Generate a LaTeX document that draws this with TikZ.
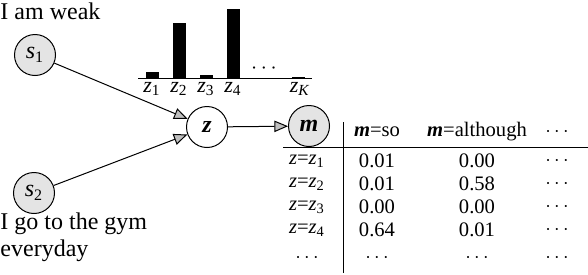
\documentclass[tikz,border=0pt]{standalone}
\usepackage{fontspec}
\setmainfont{LiberationSerif}[Extension=.ttf,UprightFont=*-Regular,BoldFont=*-Bold,ItalicFont=*-Italic,BoldItalicFont=*-BoldItalic]
\usetikzlibrary{arrows.meta}
\definecolor{nodefill}{HTML}{E4E4E4}
\newcommand{\vsub}[2]{\textit{#1}\textsubscript{#2}}
\newcommand{\bvar}[1]{\textbf{\textit{#1}}}
\tikzset{
  >={Triangle[length=2.4mm,width=2mm,fill=gray!50]},
  every picture/.style={line width=0.5pt},
  var/.style={circle,draw,minimum size=20.5pt,inner sep=0pt,font=\fontsize{12}{14}\selectfont},
  obs/.style={var,fill=nodefill},
  sent/.style={inner sep=0pt,align=left,font=\fontsize{12}{13.5}\selectfont},
  cell/.style={inner sep=0pt,font=\fontsize{10.3}{12}\selectfont},
  blab/.style={inner sep=0pt,font=\fontsize{11}{12}\selectfont},
  arr/.style={->},
}
\begin{document}
\begin{tikzpicture}[x=0.5pt,y=-0.5pt]
  \useasboundingbox (0,0) rectangle (588,274);
  % sentences and their variables
  \node[sent,anchor=north west] (t1) at (0,2) {I am weak};
  \node[sent,anchor=north west] (t2) at (0,212) {I go to the gym\\everyday};
  \node[obs] (s1) at (35,55) {\vsub{s}{1}};
  \node[obs] (s2) at (34,193) {\vsub{s}{2}};
  \node[var] (z) at (207,127) {\bvar{z}};
  \node[obs] (m) at (309,126) {\bvar{m}};
  \draw[arr] (s1) -- (z);
  \draw[arr] (s2) -- (z);
  \draw[arr] (z) -- (m);
  % topic histogram
  \draw (138,78) -- (312,78);
  \foreach \bx/\bh/\bl in {152/6/1,179/55/2,206/3/3,233/69/4}{
    \fill (\bx-6.5,78) rectangle ++(13,-\bh);
    \node[blab] at (\bx,89) {\vsub{z}{\bl}};
  }
  \fill (292,78) rectangle (305,76.5);
  \node[blab] at (300,89) {\vsub{z}{\textit{K}}};
  \node[blab] at (264,69) {$\cdots$};
  % table p(m|z)
  \draw (343,122) -- (343,273);
  \draw (283,147) -- (588,147);
  \node[cell] (h1) at (377,132) {\bvar{m}=so};
  \node[cell] (h2) at (477,132) {\bvar{m}=although};
  \node[cell] (h3) at (557,132) {$\cdots$};
  \foreach \r/\y/\pa/\pb in {1/161/0.01/0.00,2/184/0.01/0.58,3/207/0.00/0.00,4/230/0.64/0.01}{
    \node[cell] at (307,\y) {\textit{z}=\vsub{z}{\r}};
    \node[cell] at (377,\y) {\pa};
    \node[cell] at (477,\y) {\pb};
    \node[cell] at (557,\y) {$\cdots$};
  }
  \foreach \cx in {307,377,477,557}
    \node[cell] at (\cx,258) {$\cdots$};
\end{tikzpicture}
\end{document}
